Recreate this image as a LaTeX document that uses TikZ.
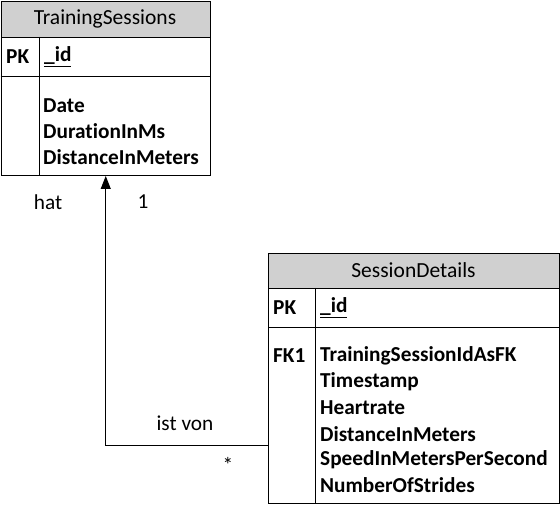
\documentclass[tikz,border=0pt]{standalone}
\usepackage{fontspec}
\setmainfont{Carlito}[Ligatures={NoCommon}]
\usetikzlibrary{arrows.meta}
\definecolor{hdr}{RGB}{208,208,208}
\tikzset{
  tbl/.style={draw, line width=1pt, inner sep=0pt, anchor=north west},
  hdrbox/.style={draw, line width=1pt, fill=hdr, inner sep=0pt, anchor=north west},
  sep/.style={line width=1pt},
  title/.style={font=\fontsize{21.5}{24}\selectfont, inner sep=0pt},
  fld/.style={font=\fontsize{21.3}{24}\selectfont\bfseries, inner sep=0pt, anchor=west},
  lbl/.style={font=\fontsize{21.3}{24}\selectfont, inner sep=0pt},
  conn/.style={line width=1pt, -{Triangle[length=13pt,width=10pt]}}
}
\begin{document}
\begin{tikzpicture}[x=1pt,y=-1pt]
\useasboundingbox (0,0) rectangle (560,505);
% TrainingSessions
\node[tbl, minimum width=209.5pt, minimum height=174pt] (ts) at (0.5,1) {};
\node[hdrbox, minimum width=209.5pt, minimum height=36pt] (tsh) at (0.5,1) {};
\node[title] (tst) at (105,19) {TrainingSessions};
\draw[sep] (0.5,77) -- (210,77);
\draw[sep] (39,37) -- (39,175);
\node[fld] (tspk) at (6,57) {PK};
\node[fld] (tsid) at (44,57) {\underline{\_id}};
\node[fld] (tsf1) at (43,106) {Date};
\node[fld] (tsf2) at (43,131.5) {DurationInMs};
\node[fld] (tsf3) at (43,157) {DistanceInMeters};
% SessionDetails
\node[tbl, minimum width=291pt, minimum height=250pt] (sd) at (268,253) {};
\node[hdrbox, minimum width=291pt, minimum height=35pt] (sdh) at (268,253) {};
\node[title] (sdt) at (413.5,270) {SessionDetails};
\draw[sep] (268,328) -- (559,328);
\draw[sep] (315,288) -- (315,503);
\node[fld] (sdpk) at (273,308) {PK};
\node[fld] (sdid) at (320,308) {\underline{\_id}};
\node[fld] (sdfk) at (273,356) {FK1};
\node[fld] (sdf1) at (320,356) {TrainingSessionIdAsFK};
\node[fld] (sdf2) at (320,382) {Timestamp};
\node[fld] (sdf3) at (320,408) {Heartrate};
\node[fld] (sdf4) at (320,434) {DistanceInMeters};
\node[fld] (sdf5) at (320,460) {SpeedInMetersPerSecond};
\node[fld] (sdf6) at (320,485) {NumberOfStrides};
% connector
\coordinate (cs) at (268,445.5);
\draw[conn] (cs) -| (ts.south);
\node[lbl] (hat) at (48,202) {hat};
\node[lbl] (one) at (143,202) {1};
\node[lbl] (istvon) at (185,423) {ist von};
\node[lbl] (star) at (228,465) {*};
\end{tikzpicture}
\end{document}
